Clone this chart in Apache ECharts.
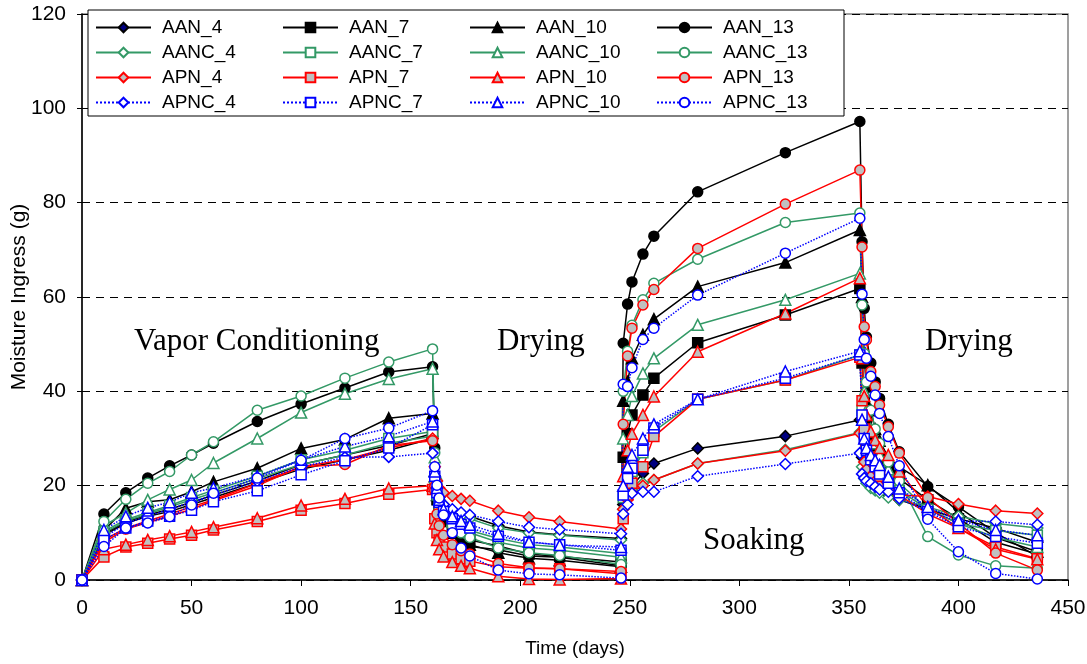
<!DOCTYPE html>
<html>
<head>
<meta charset="utf-8">
<script src="https://cdn.jsdelivr.net/npm/echarts@6/dist/echarts.min.js"></script>
<style>
  html, body { margin: 0; padding: 0; background: #fff; }
  #chart { width: 1087px; height: 664px; }
</style>
</head>
<body>
<div id="chart"></div>
<script>
// time points (days): vapor conditioning, drying, soaking, drying
var days = [0, 10, 20, 30, 40, 50, 60, 80, 100, 120, 140, 160,
  161, 162, 163, 165, 169, 173, 177, 190, 204, 218, 246,
  247, 249, 251, 256, 261, 281, 321, 355,
  356, 357, 358, 360, 362, 364, 368, 373, 386, 400, 417, 436];

var AAN_4 = [0, 9.5, 12, 13.5, 14.5, 16, 17.5, 20.5, 23.5, 25.5, 27.5, 30,
  22, 19, 17.5, 16, 14.8, 14, 13.5, 11.5, 10.2, 9.6, 8.8,
  16, 18.5, 20, 22.6, 24.7, 27.9, 30.5, 33.9,
  26, 23, 21.5, 20.5, 19.5, 19, 18, 17, 15, 13, 11, 8];
var AAN_7 = [0, 9.8, 12.3, 13.8, 15, 16.5, 18, 21, 24.5, 26.5, 28.5, 31,
  20, 17, 15, 13, 11, 9.5, 8.5, 7.2, 5.5, 5, 3.8,
  26, 31, 35, 39.2, 42.8, 50.3, 56.2, 61.8,
  46, 38, 34, 30, 27.5, 25.5, 23.5, 21.5, 17, 13, 8, 5.5];
var AAN_10 = [0, 10.5, 15.2, 16.6, 17, 18.7, 20.8, 23.7, 27.9, 29.8, 34.3, 35.3,
  22, 18, 15, 12.5, 10, 8.5, 7.5, 5.8, 4.6, 4.2, 2.8,
  38, 42, 47, 52, 55.3, 62.2, 67.3, 74.2,
  60, 47, 41, 36, 32, 29.5, 26, 24, 20.1, 14.5, 9, 6];
var AAN_13 = [0, 14, 18.5, 21.6, 24.2, 26.5, 29, 33.6, 37.3, 40.7, 44.1, 45.2,
  28, 20, 16.5, 13, 10, 8.5, 7.1, 6.4, 5.1, 4.8, 3,
  50.2, 58.5, 63.2, 69.1, 72.9, 82.3, 90.6, 97.2,
  71.7, 57.6, 51.5, 46, 42, 38.5, 33, 27.2, 19.8, 15.5, 10, 5];
var AANC_4 = [0, 10, 12.5, 14, 15.5, 17, 18.5, 21.5, 24.5, 26.5, 29, 30.5,
  22, 19, 17, 15.5, 14.3, 13.5, 13, 11, 10, 9.5, 8.5,
  15, 17.5, 19, 20.5, 21.2, 24.7, 27.6, 31.3,
  24, 21.5, 20.5, 19.5, 19, 18.5, 17.5, 17, 15.5, 13.5, 12, 11];
var AANC_7 = [0, 10.3, 12.8, 14.3, 15.8, 17.5, 19, 22, 25.5, 27.5, 30, 31.5,
  21, 18, 16, 14, 12.5, 11.3, 10.5, 8.8, 7.5, 7, 5.6,
  17.5, 21, 23, 27, 31.5, 38.3, 42.4, 47.7,
  36, 31, 28, 26, 24.5, 23, 21, 19, 15, 12, 10.5, 9.5];
var AANC_10 = [0, 11.5, 14.2, 17, 19.2, 21.2, 24.8, 30, 35.5, 39.5, 42.6, 44.8,
  26, 20, 17, 14.5, 12.5, 11, 10, 8, 6.8, 6.3, 4.8,
  30, 35, 39, 43.8, 47, 54.1, 59.4, 65,
  48, 40, 36, 32, 29, 26.5, 23.5, 20.5, 15, 12, 9, 7];
var AANC_13 = [0, 12.4, 17.1, 20.5, 23, 26.5, 29.3, 36, 39, 42.8, 46.2, 49,
  27, 21, 17, 14, 11.5, 10, 9, 6.8, 5.8, 5.2, 3.3,
  40, 48.5, 54, 59.4, 62.9, 68, 75.8, 77.8,
  58.3, 48, 42, 36, 32, 29, 25, 21, 9.2, 5.3, 3, 2.5];
var APN_4 = [0, 8.5, 11, 12.5, 14, 15.5, 17, 20.5, 24, 25.5, 28, 30,
  24, 21, 19.5, 18.5, 17.8, 17.2, 16.8, 14.7, 13.3, 12.4, 10.8,
  15, 17, 18.5, 20, 21.2, 24.7, 27.4, 31.1,
  27, 25, 23.5, 22, 21, 20, 19, 18, 17.7, 16.1, 14.7, 14.1];
var APN_7 = [0, 4.9, 7, 7.8, 8.7, 9.5, 10.6, 12.4, 14.8, 16.2, 18.2, 19.2,
  13, 10, 8.5, 7, 5.5, 4.5, 4, 2.8, 2.5, 2.4, 1.3,
  13, 18, 20.5, 24, 30.4, 38.3, 42.4, 47.2,
  38, 32, 28.5, 26, 24, 22, 20, 18, 14, 11, 7, 4.5];
var APN_10 = [0, 6.5, 7.5, 8.5, 9.3, 10.2, 11.2, 13.1, 15.8, 17.2, 19.4, 20,
  12, 8.5, 6.5, 5, 3.8, 3, 2.5, 0.8, 0.2, 0.1, 0.3,
  22, 27.5, 31, 35, 38.9, 48.4, 56.5, 64,
  47, 39, 35, 31.5, 29.7, 28, 26.5, 23, 15.5, 11, 6.5, 4.4];
var APN_13 = [0, 8, 10.8, 12.2, 13.5, 15, 16.8, 20, 24, 24.5, 28.5, 29.5,
  19, 14, 11.5, 9.5, 7.5, 6.2, 5.5, 3.5, 2.6, 2.4, 1.8,
  33, 47.5, 53.4, 58.3, 61.6, 70.3, 79.7, 86.9,
  70.6, 53.7, 50.9, 44.2, 41, 37.1, 32.5, 26.9, 17.5, 12, 5.7, 2.1];
var APNC_4 = [0, 9, 12, 13.5, 15, 16.5, 18, 21, 24, 26, 26.1, 26.9,
  22, 19.5, 17.5, 16, 15, 14.3, 13.8, 12.4, 11.2, 10.7, 9.8,
  14, 16, 18.4, 18.7, 18.7, 22, 24.6, 26.9,
  22.5, 21.6, 21, 20.5, 19.8, 19.2, 18.7, 17.3, 14.5, 12.5, 12.4, 11.7];
var APNC_7 = [0, 8.5, 11, 12.5, 13.5, 14.8, 16.6, 18.9, 22.3, 25.3, 28, 32.9,
  22, 18.5, 16.5, 14.5, 13, 11.8, 11, 9.3, 8, 7.5, 6.3,
  18, 21.5, 23.7, 27.5, 32.2, 38.3, 42.8, 47.7,
  35, 30, 27.5, 25.5, 24, 22.5, 20.5, 18.5, 14.5, 11.3, 9.2, 7.8];
var APNC_10 = [0, 10.6, 13.5, 15.3, 16.5, 18.5, 19.5, 22, 25.5, 28.3, 30.5, 33.6,
  23, 19.5, 17, 15, 13.5, 12.5, 11.7, 9.8, 8.1, 7.4, 7,
  20, 24, 26.5, 30, 33, 38.3, 44.2, 48.5,
  34, 30, 28, 26.5, 25.4, 24.4, 21.9, 19.4, 15.5, 12.7, 10.6, 9.5];
var APNC_13 = [0, 7.1, 11, 12.1, 13.4, 15.9, 18.4, 21.6, 25.4, 30, 32.2, 35.9,
  24, 20.1, 17.4, 13.8, 10, 6.8, 5.1, 2.1, 1.3, 1.1, 0.4,
  41.5, 41, 45, 51, 53.4, 60.4, 69.3, 76.7,
  60.6, 51, 47, 43.2, 39.2, 35.3, 30.4, 24.2, 12.9, 6, 1.4, 0.2];

var chart = echarts.init(document.getElementById('chart'));

var GREEN = '#339966';
var RED = '#ff0000';
var BLUE = '#0000ff';
var GRAY = '#c0c0c0';

function pairs(vals) {
  return days.map(function (d, i) { return [d, vals[i]]; });
}

// name, values, line colour, line type, symbol, symbol fill
function mk(name, vals, color, type, symbol, fill) {
  return {
    name: name,
    type: 'line',
    data: pairs(vals),
    symbol: symbol,
    symbolSize: symbol === 'triangle' || symbol === 'diamond' ? 11 : 10,
    showAllSymbol: true,
    lineStyle: { color: color, width: 1.5, type: type },
    itemStyle: { color: fill, borderColor: color, borderWidth: 1.5 },
    emphasis: { disabled: true },
    animation: false
  };
}

var series = [
  mk('AAN_4', AAN_4, '#000', 'solid', 'diamond', '#000080'),
  mk('AAN_7', AAN_7, '#000', 'solid', 'rect', '#000'),
  mk('AAN_10', AAN_10, '#000', 'solid', 'triangle', '#000'),
  mk('AAN_13', AAN_13, '#000', 'solid', 'circle', '#000'),
  mk('AANC_4', AANC_4, GREEN, 'solid', 'diamond', '#fff'),
  mk('AANC_7', AANC_7, GREEN, 'solid', 'rect', '#fff'),
  mk('AANC_10', AANC_10, GREEN, 'solid', 'triangle', '#fff'),
  mk('AANC_13', AANC_13, GREEN, 'solid', 'circle', '#fff'),
  mk('APN_4', APN_4, RED, 'solid', 'diamond', GRAY),
  mk('APN_7', APN_7, RED, 'solid', 'rect', GRAY),
  mk('APN_10', APN_10, RED, 'solid', 'triangle', GRAY),
  mk('APN_13', APN_13, RED, 'solid', 'circle', GRAY),
  mk('APNC_4', APNC_4, BLUE, 'dotted', 'diamond', '#fff'),
  mk('APNC_7', APNC_7, BLUE, 'dotted', 'rect', '#fff'),
  mk('APNC_10', APNC_10, BLUE, 'dotted', 'triangle', '#fff'),
  mk('APNC_13', APNC_13, BLUE, 'dotted', 'circle', '#fff')
];

var font = 'Liberation Sans, Arial, sans-serif';
var serif = 'Liberation Serif, Times New Roman, serif';

var option = {
  backgroundColor: '#fff',
  animation: false,
  grid: {
    left: 82, right: 19, top: 14, bottom: 84,
    containLabel: false,
    outerBoundsMode: 'none',
    show: true, borderColor: '#808080', borderWidth: 1.5
  },
  legend: {
    left: 88, top: 10,
    width: 745,
    padding: [8, 7, 4, 7],
    backgroundColor: '#fff',
    borderColor: '#000',
    borderWidth: 1,
    itemWidth: 55,
    itemHeight: 12,
    itemGap: 6,
    textStyle: { fontFamily: font, fontSize: 19, color: '#000', width: 114, lineHeight: 19, padding: [0, 0, 0, 6] },
    data: series.map(function (s) { return s.name; })
  },
  xAxis: {
    type: 'value',
    min: 0, max: 450, interval: 50,
    name: 'Time (days)',
    nameLocation: 'middle',
    nameGap: 59,
    nameMoveOverlap: false,
    nameTextStyle: { fontFamily: font, fontSize: 19, color: '#000' },
    axisLine: { lineStyle: { color: '#000', width: 1.5 } },
    axisTick: { length: 6, lineStyle: { color: '#000' } },
    axisLabel: { fontFamily: font, fontSize: 21, color: '#000', margin: 18 },
    splitLine: { show: false }
  },
  yAxis: {
    type: 'value',
    min: 0, max: 120, interval: 20,
    name: 'Moisture Ingress (g)',
    nameLocation: 'middle',
    nameGap: 52,
    nameMoveOverlap: false,
    nameTextStyle: { fontFamily: font, fontSize: 21, color: '#000' },
    axisLine: { show: true, lineStyle: { color: '#000', width: 1.5 } },
    axisTick: { show: true, length: 5, lineStyle: { color: '#000' } },
    axisLabel: { fontFamily: font, fontSize: 21, color: '#000', margin: 16 },
    splitLine: { show: true, lineStyle: { color: '#000', type: [8, 6], width: 1 } }
  },
  graphic: [
    { type: 'text', left: 134, top: 326, style: { text: 'Vapor Conditioning', font: '31px ' + serif, fill: '#000' } },
    { type: 'text', left: 497, top: 326, style: { text: 'Drying', font: '31px ' + serif, fill: '#000' } },
    { type: 'text', left: 925, top: 326, style: { text: 'Drying', font: '31px ' + serif, fill: '#000' } },
    { type: 'text', left: 703, top: 525, style: { text: 'Soaking', font: '31px ' + serif, fill: '#000' } }
  ],
  series: series
};

chart.setOption(option);
</script>
</body>
</html>
